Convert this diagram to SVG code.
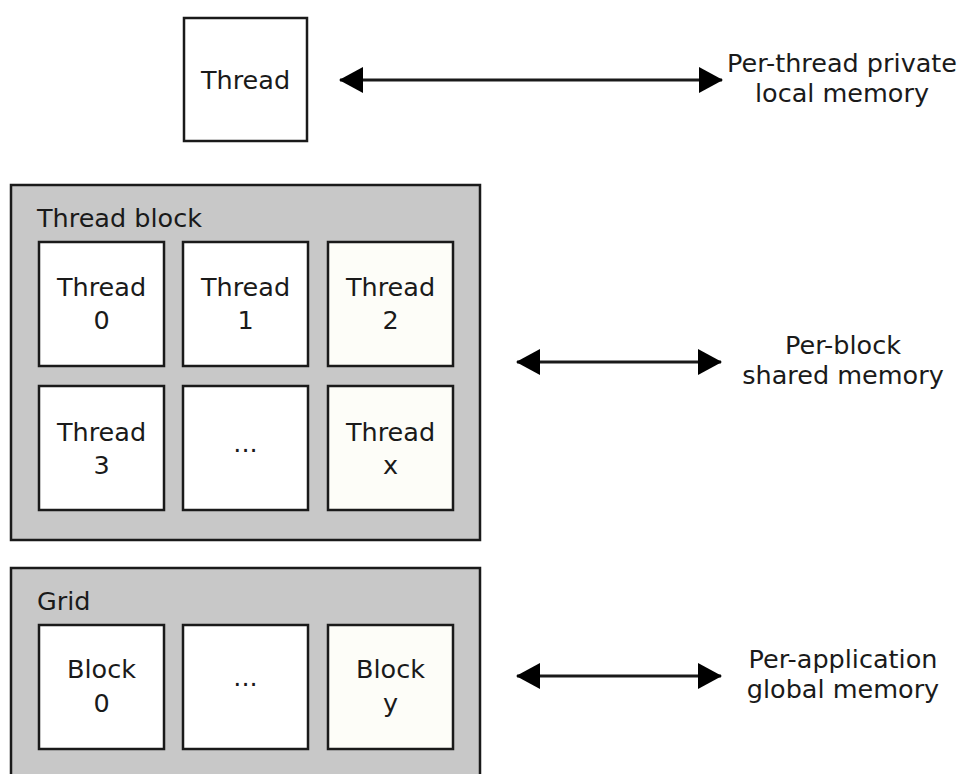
<svg xmlns="http://www.w3.org/2000/svg" width="965" height="774" viewBox="0 0 965 774">
  <style>
    .bg { fill: #ffffff; }
    .group { fill: #c8c8c8; stroke: #1a1a1a; stroke-width: 2.5; }
    .box { fill: #ffffff; stroke: #1a1a1a; stroke-width: 2.5; }
    .box.alt { fill: #fdfdf8; }
    text { font-family: "DejaVu Sans", sans-serif; font-size: 25.5px; fill: #1a1a1a; }
    .c { text-anchor: middle; }
    .conn { stroke: #1a1a1a; stroke-width: 3; fill: none; marker-start: url(#head); marker-end: url(#head); }
  </style>
  <defs>
    <marker id="head" viewBox="0 0 24 28" refX="23" refY="14" markerWidth="24" markerHeight="28" markerUnits="userSpaceOnUse" orient="auto-start-reverse">
      <path d="M0,1 L24,14 L0,27 Z" fill="#000000"/>
    </marker>
  </defs>
  <rect class="bg" x="0" y="0" width="965" height="774"/>

  <!-- single thread -->
  <g id="thread">
    <rect class="box" x="184" y="18" width="123" height="123"/>
    <text class="c" x="245.5" y="89">Thread</text>
  </g>

  <!-- thread block with its threads -->
  <g id="thread-block">
    <rect class="group" x="11" y="185" width="469" height="355"/>
    <text x="37" y="227">Thread block</text>
  </g>
  <g id="thread-0">
    <rect class="box" x="39" y="242" width="125" height="124"/>
    <text class="c" x="101.5" y="296">Thread</text>
    <text class="c" x="101.5" y="329">0</text>
  </g>
  <g id="thread-1">
    <rect class="box" x="183" y="242" width="125" height="124"/>
    <text class="c" x="245.5" y="296">Thread</text>
    <text class="c" x="245.5" y="329">1</text>
  </g>
  <g id="thread-2">
    <rect class="box alt" x="328" y="242" width="125" height="124"/>
    <text class="c" x="390.5" y="296">Thread</text>
    <text class="c" x="390.5" y="329">2</text>
  </g>
  <g id="thread-3">
    <rect class="box" x="39" y="386" width="125" height="124"/>
    <text class="c" x="101.5" y="441">Thread</text>
    <text class="c" x="101.5" y="474">3</text>
  </g>
  <g id="thread-more">
    <rect class="box" x="183" y="386" width="125" height="124"/>
    <text class="c" x="245.5" y="452">...</text>
  </g>
  <g id="thread-x">
    <rect class="box alt" x="328" y="386" width="125" height="124"/>
    <text class="c" x="390.5" y="441">Thread</text>
    <text class="c" x="390.5" y="474">x</text>
  </g>

  <!-- grid with its blocks -->
  <g id="grid">
    <rect class="group" x="11" y="568" width="469" height="220"/>
    <text x="37" y="610">Grid</text>
  </g>
  <g id="block-0">
    <rect class="box" x="39" y="625" width="125" height="124"/>
    <text class="c" x="101.5" y="678">Block</text>
    <text class="c" x="101.5" y="712">0</text>
  </g>
  <g id="block-more">
    <rect class="box" x="183" y="625" width="125" height="124"/>
    <text class="c" x="245.5" y="686">...</text>
  </g>
  <g id="block-y">
    <rect class="box alt" x="328" y="625" width="125" height="124"/>
    <text class="c" x="390.5" y="678">Block</text>
    <text class="c" x="390.5" y="712">y</text>
  </g>

  <!-- memory labels -->
  <g id="local-memory">
    <text class="c" x="842" y="72">Per-thread private</text>
    <text class="c" x="842" y="102">local memory</text>
  </g>
  <g id="shared-memory">
    <text class="c" x="843" y="354">Per-block</text>
    <text class="c" x="843" y="384">shared memory</text>
  </g>
  <g id="global-memory">
    <text class="c" x="843" y="668">Per-application</text>
    <text class="c" x="843" y="698">global memory</text>
  </g>

  <!-- connectors -->
  <g id="connectors">
    <line class="conn" x1="340" y1="80" x2="722" y2="80"/>
    <line class="conn" x1="517" y1="362" x2="721" y2="362"/>
    <line class="conn" x1="517" y1="676" x2="721" y2="676"/>
  </g>
</svg>
